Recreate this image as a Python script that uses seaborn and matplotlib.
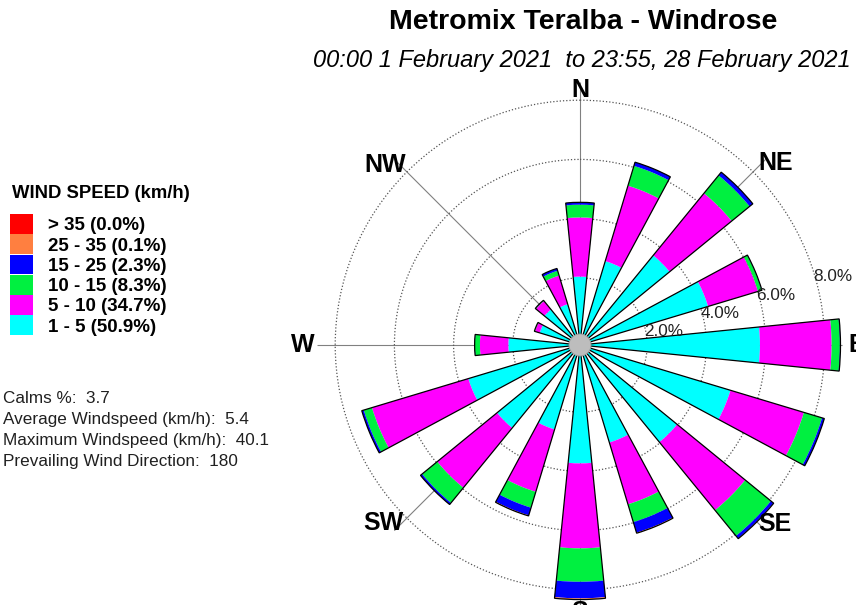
import numpy as np
import matplotlib
matplotlib.use("Agg")
import matplotlib.pyplot as plt
from matplotlib.patches import Patch, Circle
import seaborn as sns

# Rosa dos ventos - 16 direcoes, frequencia (%) por classe de velocidade
direcoes = ["N", "NNE", "NE", "ENE", "E", "ESE", "SE", "SSE",
            "S", "SSW", "SW", "WSW", "W", "WNW", "NW", "NNW"]
angulos = np.arange(16) * 22.5

v_1_5 = [2.04, 2.69, 3.64, 4.25, 5.81, 5.04, 3.97, 3.17, 3.73, 2.71, 3.35, 3.67, 2.15, 1.15, 1.28, 1.17]
v_5_10 = [2.00, 2.66, 2.71, 1.76, 2.42, 2.59, 2.97, 2.18, 2.87, 2.20, 2.61, 3.40, 0.96, 0.17, 0.37, 1.01]
v_10_15 = [0.43, 0.70, 0.78, 0.13, 0.28, 0.64, 1.12, 0.63, 1.13, 0.56, 0.66, 0.29, 0.17, 0.02, 0.02, 0.17]
v_15_25 = [0.08, 0.13, 0.14, 0.01, 0.02, 0.08, 0.11, 0.37, 0.56, 0.27, 0.07, 0.07, 0.01, 0.00, 0.01, 0.08]
v_25_35 = [0, 0, 0, 0, 0, 0, 0.01, 0.02, 0.04, 0.02, 0, 0, 0, 0, 0, 0]
v_35 = [0] * 16

classes = [v_1_5, v_5_10, v_10_15, v_15_25, v_25_35, v_35]
rotulos = ["1 - 5 (50.9%)", "5 - 10 (34.7%)", "10 - 15 (8.3%)",
           "15 - 25 (2.3%)", "25 - 35 (0.1%)", "> 35 (0.0%)"]
cores = ["#00FFFF", "#FF00FF", "#00F040", "#0000FF", "#FF7F40", "#FF0000"]

aneis = [2, 4, 6, 8]
pontos = ["N", "NE", "E", "SE", "S", "SW", "W", "NW"]
pontos_pos = [(0, 8.34), (47.1, 8.77), (90, 9.09), (132.5, 8.67),
              (180, 8.75), (227.8, 8.68), (270, 9.09), (312.7, 8.70)]

estatisticas = ["Calms %:  3.7",
                "Average Windspeed (km/h):  5.4",
                "Maximum Windspeed (km/h):  40.1",
                "Prevailing Wind Direction:  180"]

sns.set_style("white")
plt.rcParams['font.family'] = ['Liberation Sans', 'DejaVu Sans']
plt.rcParams['text.color'] = 'black'

W, H = 856, 605
fig = plt.figure(figsize=(W / 100, H / 100), dpi=100)

# eixo polar centrado em (580, 345) px
R = 262.55
ax = fig.add_axes([(580 - R) / W, (H - 345 - R) / H, 2 * R / W, 2 * R / H], projection="polar")
ax.set_theta_zero_location("N")
ax.set_theta_direction(-1)
ax.set_rorigin(-0.27)
ax.set_ylim(0, 8.6)
ax.set_axisbelow(True)

theta = np.deg2rad(angulos)
largura = np.deg2rad(11.5)
base = np.zeros(16)
for vals, cor in zip(classes, cores):
    vals = np.array(vals)
    ax.bar(theta, vals, width=largura, bottom=base, color=cor, edgecolor="none", zorder=2)
    base = base + vals
ax.bar(theta, base, width=largura, fill=False, edgecolor="black", linewidth=0.9, zorder=3)

# circulo cinza no centro (calmarias)
centro = Circle((0.5, 0.5), 11 / (2 * R), transform=ax.transAxes,
                facecolor="#bdbdbd", edgecolor="#9a9a9a", linewidth=0.6, zorder=6)
ax.add_artist(centro)
centro.set_clip_on(False)

ax.set_xticks(np.deg2rad(np.arange(0, 360, 45)))
ax.set_xticklabels([])
ax.set_yticks(aneis)
ax.set_yticklabels([])
ax.tick_params(length=0)
ax.xaxis.grid(True, color="#808080", linewidth=0.8, linestyle="-")
ax.yaxis.grid(True, color="#555555", linewidth=0.9, linestyle=(0, (1, 1.6)))
ax.spines["polar"].set_visible(False)

for a in aneis:
    ax.text(np.deg2rad(72), a, f"{a:.1f}%", ha="left", va="top", fontsize=12.3, color="#222222", zorder=7)

for nome, (ang, r) in zip(pontos, pontos_pos):
    ax.text(np.deg2rad(ang), r, nome, ha="center", va="center", fontsize=18, fontweight="bold")

# titulos
fig.text(583.5 / W, 1 - 22 / H, "Metromix Teralba - Windrose", ha="center", va="center",
         fontsize=20.5, fontweight="bold")
fig.text(582 / W, 1 - 60 / H, "00:00 1 February 2021  to 23:55, 28 February 2021",
         ha="center", va="center", fontsize=17, style="italic")

# legenda
fig.text(12 / W, 1 - 193 / H, "WIND SPEED (km/h)", ha="left", va="center",
         fontsize=13.3, fontweight="bold")
handles = [Patch(facecolor=c, edgecolor="none") for c in cores[::-1]]
fig.legend(handles, rotulos[::-1], loc="upper left", bbox_to_anchor=(10 / W, 1 - 214 / H),
           frameon=False, prop=dict(weight="bold", size=13.5), handlelength=1.23,
           handleheight=1.26, handletextpad=0.8, labelspacing=0, borderpad=0, borderaxespad=0)

for i, s in enumerate(estatisticas):
    fig.text(3 / W, 1 - (403 + 21 * i) / H, s, ha="left", va="baseline",
             fontsize=12.3, color="#202020")

fig.savefig("out.png", dpi=100)
